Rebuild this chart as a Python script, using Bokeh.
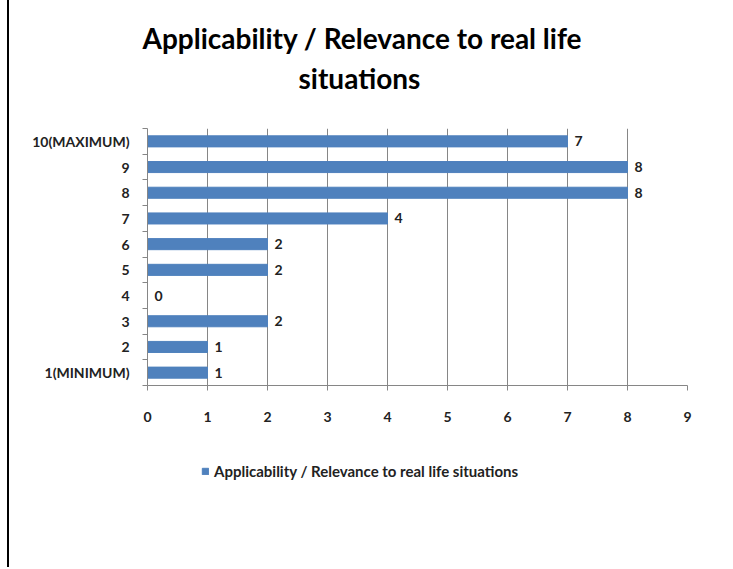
from bokeh.plotting import figure
from bokeh.models import ColumnDataSource, FixedTicker, Title, Legend, LegendItem
from bokeh.layouts import column
from bokeh.core.properties import value
from bokeh.embed import file_html
from bokeh.resources import INLINE

categories = ["1(MINIMUM)", "2", "3", "4", "5", "6", "7", "8", "9", "10(MAXIMUM)"]
values = [1, 1, 2, 0, 2, 2, 4, 8, 8, 7]
series_name = "Applicability / Relevance to real life situations"
x_ticks = [0, 1, 2, 3, 4, 5, 6, 7, 8, 9]

pos = list(range(1, len(categories) + 1))
src = ColumnDataSource(dict(y=pos, v=values, lab=[str(v) for v in values]))

FONT = "Lato"
LBL = "14px"
BAR = "#4F81BD"
GRID = "#868686"

p = figure(width=720, height=440, output_backend="svg", toolbar_location=None,
           x_range=(0, 9), y_range=(0.5, 10.5),
           min_border_left=138, min_border_right=42, min_border_top=128, min_border_bottom=55)
p.outline_line_color = None

r = p.hbar(y="y", right="v", left=0, height=0.43, source=src, color=BAR)
p.text(x="v", y="y", text="lab", source=src, x_offset=7, text_align="left",
       text_baseline="middle", text_font_size=LBL, text_color="#222222",
       text_font=value(FONT), text_font_style="bold")

p.xaxis.ticker = FixedTicker(ticks=x_ticks)
p.xaxis.axis_line_color = GRID
p.xaxis.major_tick_line_color = GRID
p.xaxis.major_tick_in = 0
p.xaxis.major_tick_out = 5
p.xaxis.minor_tick_line_color = None
p.xaxis.major_label_standoff = 21
p.xaxis.major_label_text_font = FONT
p.xaxis.major_label_text_font_size = LBL
p.xaxis.major_label_text_font_style = "bold"
p.xaxis.major_label_text_color = "#222222"

p.yaxis.ticker = FixedTicker(ticks=pos, minor_ticks=[x + 0.5 for x in range(0, 11)])
p.yaxis.major_label_overrides = {i: c for i, c in zip(pos, categories)}
p.yaxis.axis_line_color = GRID
p.yaxis.major_tick_line_color = None
p.yaxis.minor_tick_line_color = GRID
p.yaxis.minor_tick_in = 0
p.yaxis.minor_tick_out = 5
p.yaxis.major_label_standoff = 12
p.yaxis.major_label_text_font = FONT
p.yaxis.major_label_text_font_size = LBL
p.yaxis.major_label_text_font_style = "bold"
p.yaxis.major_label_text_color = "#222222"

p.xgrid.grid_line_color = GRID
p.ygrid.grid_line_color = None

# title: spacer, then two lines stacked outward from the frame
p.add_layout(Title(text=" ", align="left", standoff=0, text_font=FONT,
                   text_font_size="23px"), "above")
p.add_layout(Title(text="situations", align="left", offset=151, standoff=8,
                   text_font=FONT, text_font_size="28px", text_font_style="bold",
                   text_color="black"), "above")
p.add_layout(Title(text="Applicability / Relevance to real life", align="left", offset=-5,
                   standoff=0, text_font=FONT, text_font_size="28px", text_font_style="bold",
                   text_color="black"), "above")

# legend strip (its frame is aligned with the chart frame by the column layout)
q = figure(width=720, height=127, output_backend="svg", toolbar_location=None,
           x_range=(0, 9), y_range=(100, 101), x_axis_type=None, y_axis_type=None,
           min_border=0)
q.outline_line_color = None
q.grid.grid_line_color = None
lr = q.hbar(y="y", right="v", left=0, height=0.43, source=src, color=BAR)
legend = Legend(items=[LegendItem(label=series_name, renderers=[lr])],
                location=(54, 87), orientation="horizontal",
                label_text_font=FONT, label_text_font_size="15px", label_text_font_style="bold",
                label_text_color="#222222", glyph_width=8, glyph_height=8,
                border_line_color=None, background_fill_alpha=0, margin=0, padding=5)
q.add_layout(legend, "center")

lay = column(p, q, spacing=0)
lay.styles = {"border-left": "2px solid black", "margin-left": "7px"}

open("out.html", "w").write(file_html(lay, INLINE))
